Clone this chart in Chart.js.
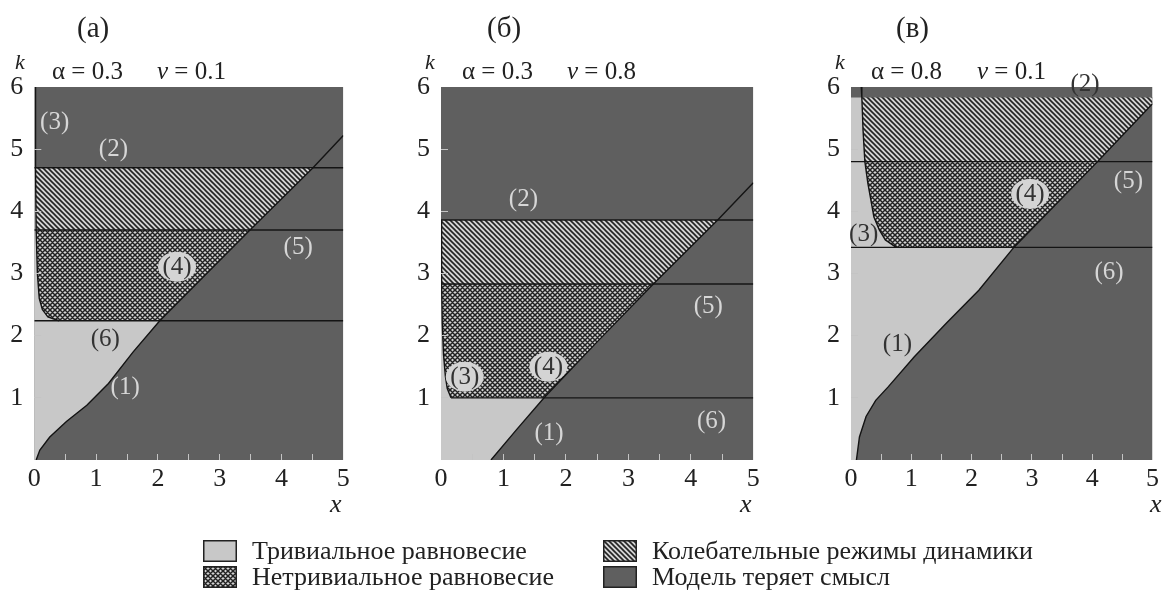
<!DOCTYPE html>
<html>
<head>
<meta charset="utf-8">
<script src="https://cdn.jsdelivr.net/npm/chart.js@4.4.1/dist/chart.umd.min.js"></script>
<style>
  body { margin: 0; background: #fff; width: 1169px; height: 592px; position: relative; overflow: hidden;
         font-family: "Liberation Serif", "Times New Roman", serif; color: #222; }
  canvas { position: absolute; top: 0; }
  .t { position: absolute; white-space: nowrap; line-height: 1; transform: translateY(-50%); }
  .i { font-style: italic; }
  .sw { position: absolute; width: 34px; height: 22px; }
</style>
</head>
<body>
<canvas id="pa" width="390" height="500" style="left:0"></canvas>
<canvas id="pb" width="390" height="500" style="left:390px"></canvas>
<canvas id="pc" width="389" height="500" style="left:780px"></canvas>

<div class="t" style="left:77px;top:27px;font-size:29px">(а)</div>
<div class="t" style="left:487px;top:27px;font-size:29px">(б)</div>
<div class="t" style="left:896px;top:27px;font-size:29px">(в)</div>

<div class="t i" style="left:15px;top:62px;font-size:22px">k</div>
<div class="t i" style="left:425px;top:62px;font-size:22px">k</div>
<div class="t i" style="left:835px;top:62px;font-size:22px">k</div>

<div class="t" style="left:52px;top:70px;font-size:25px">α = 0.3</div>
<div class="t" style="left:157px;top:70px;font-size:25px"><span class="i">v</span> = 0.1</div>
<div class="t" style="left:462px;top:70px;font-size:25px">α = 0.3</div>
<div class="t" style="left:567px;top:70px;font-size:25px"><span class="i">v</span> = 0.8</div>
<div class="t" style="left:871px;top:70px;font-size:25px">α = 0.8</div>
<div class="t" style="left:977px;top:70px;font-size:25px"><span class="i">v</span> = 0.1</div>

<div class="t i" style="left:330px;top:504px;font-size:26px">x</div>
<div class="t i" style="left:740px;top:504px;font-size:26px">x</div>
<div class="t i" style="left:1150px;top:504px;font-size:26px">x</div>

<canvas class="sw" id="sw0" width="34" height="22" style="left:203px;top:540px"></canvas>
<canvas class="sw" id="sw1" width="34" height="22" style="left:203px;top:566px"></canvas>
<canvas class="sw" id="sw2" width="34" height="22" style="left:603px;top:540px"></canvas>
<canvas class="sw" id="sw3" width="34" height="22" style="left:603px;top:566px"></canvas>
<div class="t" id="lg0" style="left:252px;top:551px;font-size:26px"></div>
<div class="t" id="lg1" style="left:252px;top:577px;font-size:26px"></div>
<div class="t" id="lg2" style="left:652px;top:551px;font-size:26px"></div>
<div class="t" id="lg3" style="left:652px;top:577px;font-size:26px"></div>

<script>
// legend entries
const legendNames = ['Тривиальное равновесие', 'Нетривиальное равновесие',
                     'Колебательные режимы динамики', 'Модель теряет смысл'];

const xMax = 5, kMax = 6;

// (а) alpha = 0.3, v = 0.1
const line1A = [[0.03,0],[0.09,0.16],[0.25,0.37],[0.52,0.62],[0.85,0.88],[1.2,1.23],[1.6,1.74],[2.03,2.24],[3.49,3.7],[4.51,4.7],[5,5.22]];
const curve3A = [[0.02,6],[0.02,4.7],[0.03,3.7],[0.05,3.0],[0.08,2.6],[0.13,2.42],[0.22,2.3],[0.4,2.24]];
const levelsA = [2.24, 3.7, 4.7];
const hLinesA = [[0,2.24],[0,3.7],[0,4.7]];
const labelsA = [['(3)',0.33,5.44],['(2)',1.28,5.01],['(5)',4.27,3.43],['(4)',2.31,3.11],['(6)',1.15,1.96],['(1)',1.47,1.18]];
const boxedA = ['(4)'];
const darkTextA = ['(6)'];

// (б) alpha = 0.3, v = 0.8
const line1B = [[0.8,0],[1.22,0.5],[1.65,1.0],[2.5,1.9],[3.4,2.83],[4.43,3.86],[5,4.46]];
const curve3B = [[0,3.86],[0.01,2.83],[0.02,2.2],[0.04,1.7],[0.07,1.35],[0.1,1.15],[0.16,1.0]];
const levelsB = [1.0, 2.83, 3.86];
const hLinesB = [[0.16,1.0],[0,2.83],[0,3.86]];
const labelsB = [['(2)',1.32,4.2],['(5)',4.28,2.49],['(3)',0.38,1.34],['(4)',1.72,1.5],['(1)',1.73,0.45],['(6)',4.33,0.64]];
const boxedB = ['(3)','(4)'];
const darkTextB = [];

// (в) alpha = 0.8, v = 0.1
const line1C = [[0.09,0],[0.14,0.37],[0.25,0.7],[0.41,0.96],[0.62,1.18],[1.05,1.66],[1.58,2.2],[2.12,2.73],[2.7,3.42],[4.09,4.8],[5,5.73]];
const curve3C = [[0.17,6],[0.18,5.83],[0.2,5.3],[0.23,4.8],[0.28,4.45],[0.33,4.18],[0.38,3.91],[0.47,3.7],[0.57,3.54],[0.75,3.42]];
const levelsC = [3.42, 4.8, 5.83];
const hLinesC = [[0,3.42],[0,4.8]];
const labelsC = [['(2)',3.88,6.06],['(5)',4.6,4.5],['(4)',2.97,4.28],['(3)',0.21,3.64],['(6)',4.28,3.03],['(1)',0.77,1.88]];
const boxedC = ['(4)'];
const darkTextC = ['(2)','(1)','(3)'];

const DARK = '#5f5f5f', LIGHT = '#c8c8c8', INK = '#141414';

function makePattern(cross) {
  const s = 5;
  const c = document.createElement('canvas');
  c.width = c.height = s;
  const g = c.getContext('2d');
  g.fillStyle = '#d4d4d4';
  g.fillRect(0, 0, s, s);
  g.strokeStyle = '#222';
  g.lineWidth = cross ? 1.5 : 1.6;
  g.beginPath();
  g.moveTo(-1, -1); g.lineTo(s + 1, s + 1);
  g.moveTo(-1, s - 1); g.lineTo(1, s + 1);
  g.moveTo(s - 1, -1); g.lineTo(s + 1, 1);
  if (cross) {
    g.moveTo(s + 1, -1); g.lineTo(-1, s + 1);
    g.moveTo(-1, 1); g.lineTo(1, -1);
    g.moveTo(s - 1, s + 1); g.lineTo(s + 1, s - 1);
  }
  g.stroke();
  return g.createPattern(c, 'repeat');
}
const HATCH = makePattern(false);
const CROSS = makePattern(true);

const between = (pts, lo, hi) => pts.filter(p => p[1] >= lo && p[1] <= hi);
const toXY = pts => pts.map(([x, y]) => ({x, y}));

function polyDs(pts, bg) {
  return { data: toXY(pts), showLine: true, fill: 'shape', backgroundColor: bg,
           borderColor: 'transparent', borderWidth: 0, pointRadius: 0 };
}
function strokeDs(pts) {
  return { data: toXY(pts), showLine: true, fill: false, borderColor: INK,
           borderWidth: 1.4, pointRadius: 0 };
}

const regionLabels = {
  id: 'regionLabels',
  afterDatasetsDraw(chart, args, opts) {
    const {ctx, scales: {x, y}} = chart;
    ctx.save();
    ctx.font = '25px "Liberation Serif", serif';
    ctx.textAlign = 'center';
    ctx.textBaseline = 'middle';
    opts.items.forEach(([txt, vx, vk]) => {
      const px = x.getPixelForValue(vx), py = y.getPixelForValue(vk);
      const boxed = opts.boxed.includes(txt);
      if (boxed) {
        ctx.fillStyle = '#d4d4d4';
        ctx.beginPath();
        ctx.ellipse(px, py, 19, 15, 0, 0, Math.PI * 2);
        ctx.fill();
      }
      ctx.fillStyle = boxed || opts.darkText.includes(txt) ? '#333' : '#d6d6d6';
      ctx.fillText(txt, px, py + 1);
    });
    ctx.restore();
  }
};

function makePanel(id, p) {
  const [lo, mid, top] = p.levels;
  const last = p.line1[p.line1.length - 1];

  const light = [[0, 0], ...between(p.line1, 0, lo), ...between(p.curve3, lo, top).reverse(), [0, top]];
  const cross = [...between(p.line1, lo, mid), ...between(p.curve3, lo, mid)];
  const hatch = [...between(p.line1, mid, top)];
  if (last[1] < top) hatch.push([last[0], top]);
  hatch.push(...between(p.curve3, mid, top));
  const dark = [[0, 0], [xMax, 0], [xMax, kMax], [0, kMax]];

  const datasets = [
    strokeDs(p.line1),
    strokeDs(p.curve3),
    ...p.hLines.map(([x0, k]) => strokeDs([[x0, k], [xMax, k]])),
    polyDs(cross, CROSS),
    polyDs(hatch, HATCH),
    polyDs(light, LIGHT),
    polyDs(dark, DARK)
  ];

  const tickFont = { family: '"Liberation Serif", serif', size: 26 };
  new Chart(document.getElementById(id), {
    type: 'scatter',
    data: { datasets },
    options: {
      responsive: false,
      animation: false,
      events: [],
      layout: { padding: { left: 0, right: p.padRight, top: 87, bottom: 0 } },
      plugins: {
        legend: { display: false },
        tooltip: { enabled: false },
        regionLabels: { items: p.labels, boxed: p.boxed, darkText: p.darkText }
      },
      scales: {
        x: {
          type: 'linear', min: 0, max: xMax,
          border: { display: false },
          grid: {
            drawOnChartArea: false, drawTicks: true, tickLength: -6, z: 1, lineWidth: 1,
            color: c => (c.tick && c.tick.value > 0 && c.tick.value < xMax) ? '#c4c4c4' : 'transparent'
          },
          ticks: {
            stepSize: 0.5, padding: 10, color: '#222', font: tickFont, maxRotation: 0, autoSkip: false,
            callback: v => Number.isInteger(v) ? String(v) : ''
          },
          afterFit: s => { s.height = 40; }
        },
        y: {
          type: 'linear', min: 0, max: kMax,
          border: { display: false },
          grid: {
            drawOnChartArea: false, drawTicks: true, tickLength: -7, z: 1, lineWidth: 1,
            color: c => (c.tick && c.tick.value > 0 && c.tick.value < kMax) ? '#c4c4c4' : 'transparent'
          },
          ticks: {
            stepSize: 1, padding: 18, color: '#222', font: tickFont,
            callback: v => v === 0 ? '' : String(v)
          },
          afterFit: s => { s.width = p.axisWidth; }
        }
      }
    },
    plugins: [regionLabels]
  });
}

makePanel('pa', { line1: line1A, curve3: curve3A, levels: levelsA, hLines: hLinesA,
  labels: labelsA, boxed: boxedA, darkText: darkTextA, axisWidth: 34.3, padRight: 46.7 });
makePanel('pb', { line1: line1B, curve3: curve3B, levels: levelsB, hLines: hLinesB,
  labels: labelsB, boxed: boxedB, darkText: darkTextB, axisWidth: 51, padRight: 26.7 });
makePanel('pc', { line1: line1C, curve3: curve3C, levels: levelsC, hLines: hLinesC,
  labels: labelsC, boxed: boxedC, darkText: darkTextC, axisWidth: 71, padRight: 5.7 });

// legend swatches
const swFills = [LIGHT, CROSS, HATCH, DARK];
swFills.forEach((f, i) => {
  const g = document.getElementById('sw' + i).getContext('2d');
  g.fillStyle = f;
  g.fillRect(0, 0, 34, 22);
  g.strokeStyle = '#222';
  g.lineWidth = 1.5;
  g.strokeRect(0.75, 0.75, 32.5, 20.5);
  document.getElementById('lg' + i).textContent = legendNames[i];
});
</script>
</body>
</html>
